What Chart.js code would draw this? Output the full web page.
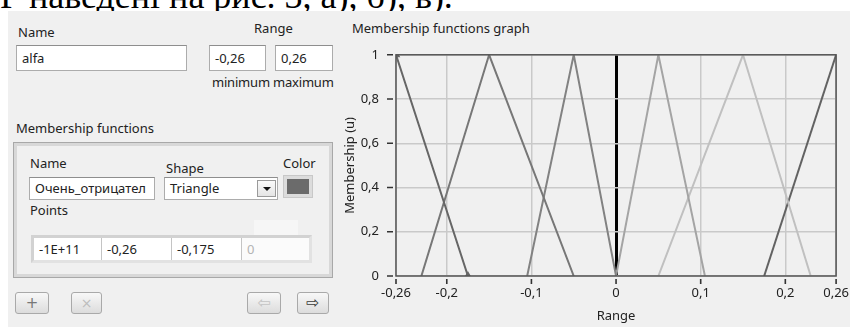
<!DOCTYPE html>
<html>
<head>
<meta charset="utf-8">
<script src="https://cdn.jsdelivr.net/npm/chart.js"></script>
<style>
body { margin: 0; width: 858px; height: 327px; overflow: hidden; background: #fff; position: relative;
       font-family: "Noto Sans", sans-serif; font-size: 13px; color: #222; }
.a { position: absolute; white-space: nowrap; }
#cap { left: 0; top: -25px; font-family: "Liberation Serif", serif; font-size: 36px; color: #000; }
#panel { left: 8px; top: 11px; width: 842px; height: 316px; background: #f0f0f0; }
.lbl { line-height: 16px; }
.box { background: #fff; border: 1px solid #acacac; border-top-color: #8e8e8e; box-sizing: border-box;
       padding-left: 5px; }
.frame { border: 1px solid #a8a8a8; box-shadow: inset 0 0 0 3px #d8d8d8; box-sizing: border-box; }
.arr { border: 3px solid #d2d2d2; border-right-color: #e2e2e2; border-bottom-color: #e2e2e2; box-sizing: border-box; display: flex; }
.cell { background: #fff; border-right: 1px solid #c4c4c4; box-sizing: border-box; padding-left: 5px; height: 100%; }
.btn { border: 1px solid #a9a9a9; border-radius: 3px; background: linear-gradient(#f8f8f8, #dcdcdc);
       box-sizing: border-box; text-align: center; font-family: "DejaVu Sans", sans-serif; }
#chartWrap { left: 340px; top: 30px; width: 518px; height: 297px; }
</style>
</head>
<body>
<div class="a" id="cap">Р наведені на рис. 3, а), б), в).</div>
<div class="a" id="panel"></div>

<div class="a lbl" style="left:18px;top:24px">Name</div>
<div class="a box" style="left:16px;top:45px;width:171px;height:26px;line-height:24px">alfa</div>
<div class="a lbl" style="left:254px;top:20px">Range</div>
<div class="a box" style="left:209px;top:45px;width:57px;height:26px;line-height:24px">-0,26</div>
<div class="a box" style="left:275px;top:45px;width:58px;height:26px;line-height:24px">0,26</div>
<div class="a lbl" style="left:212px;top:74px;letter-spacing:-0.2px">minimum</div>
<div class="a lbl" style="left:273px;top:74px;letter-spacing:-0.2px">maximum</div>

<div class="a lbl" style="left:16px;top:120px">Membership functions</div>
<div class="a frame" style="left:13px;top:142px;width:320px;height:136px"></div>
<div class="a lbl" style="left:30px;top:155px">Name</div>
<div class="a box" style="left:29px;top:177px;width:126px;height:23px;line-height:21px;overflow:hidden">Очень_отрицател</div>
<div class="a lbl" style="left:166px;top:160px">Shape</div>
<div class="a box" style="left:164px;top:177px;width:114px;height:23px;line-height:21px">Triangle</div>
<div class="a" style="left:257px;top:180px;width:19px;height:17px;border:1px solid #9a9a9a;box-sizing:border-box;background:linear-gradient(#fafafa,#e4e4e4)">
  <div style="position:absolute;left:5px;top:6px;width:0;height:0;border-left:4px solid transparent;border-right:4px solid transparent;border-top:4px solid #111"></div>
</div>
<div class="a lbl" style="left:283px;top:155px">Color</div>
<div class="a" style="left:283px;top:175px;width:30px;height:23px;background:#dcdcdc;border:1px solid #c8c8c8;box-sizing:border-box">
  <div style="position:absolute;left:3px;top:3px;width:22px;height:15px;background:#6b6b6b"></div>
</div>
<div class="a lbl" style="left:30px;top:202px">Points</div>
<div class="a" style="left:254px;top:220px;width:44px;height:15px;background:#f6f6f6"></div>
<div class="a arr" style="left:31px;top:235px;width:281px;height:28px;line-height:22px">
  <div class="cell" style="width:68px">-1E+11</div>
  <div class="cell" style="width:70px">-0,26</div>
  <div class="cell" style="width:70px">-0,175</div>
  <div class="cell" style="width:67px;color:#b4b4b4;border-right:none;background:#fbfbfb">0</div>
</div>

<div class="a btn" style="left:15px;top:292px;width:34px;height:22px;line-height:20px;color:#777;font-size:15px">+</div>
<div class="a btn" style="left:71px;top:292px;width:31px;height:22px;line-height:20px;color:#bdbdbd;font-size:14px">×</div>
<div class="a btn" style="left:247px;top:292px;width:34px;height:22px;line-height:20px;color:#c4c4c4;font-size:16px">⇦</div>
<div class="a btn" style="left:297px;top:292px;width:32px;height:22px;line-height:20px;color:#3a3a3a;font-size:16px">⇨</div>

<div class="a lbl" style="left:352px;top:20px">Membership functions graph</div>
<div class="a" id="chartWrap"><canvas id="mfChart" width="518" height="297"></canvas></div>

<script>
// axis ticks
const xTicks = [-0.26, -0.2, -0.1, 0, 0.1, 0.2, 0.26];
const xTickLabels = ['-0,26', '-0,2', '-0,1', '0', '0,1', '0,2', '0,26'];
const yTicks = [0, 0.2, 0.4, 0.6, 0.8, 1];
const yTickLabels = ['0', '0,2', '0,4', '0,6', '0,8', '1'];

// triangle membership functions: points a, b, c
const mfPoints = [
  [-1e11, -0.26, -0.175],
  [-0.23, -0.15, -0.05],
  [-0.105, -0.05, 0],
  [0, 0.05, 0.105],
  [0.05, 0.15, 0.23],
  [0.175, 0.26, 1e11]
];
const mfLevels = [0, 1, 0];

const lineColors = ['#666666', '#777777', '#828282', '#a4a4a4', '#c0c0c0', '#626262'];

const datasets = mfPoints.map((p, i) => ({
  data: p.map((x, j) => ({ x: x, y: mfLevels[j] })),
  showLine: true,
  borderColor: lineColors[i],
  backgroundColor: lineColors[i],
  borderWidth: 2,
  pointRadius: i === 0 ? [0, 3, 3] : 0,
  pointStyle: 'triangle'
}));

const plotFrame = {
  id: 'plotFrame',
  afterDatasetsDraw(chart) {
    const a = chart.chartArea, ctx = chart.ctx;
    ctx.save();
    ctx.strokeStyle = '#555';
    ctx.lineWidth = 1.5;
    ctx.strokeRect(a.left, a.top, a.right - a.left, a.bottom - a.top);
    ctx.restore();
  },
  afterDraw(chart) {
    const a = chart.chartArea, ctx = chart.ctx;
    const xs = chart.scales.x, ys = chart.scales.y;
    ctx.save();
    ctx.strokeStyle = '#333';
    ctx.lineWidth = 1.6;
    ctx.beginPath();
    xTicks.forEach(v => {
      const px = xs.getPixelForValue(v);
      ctx.moveTo(px, a.bottom + 3);
      ctx.lineTo(px, a.bottom + 8);
    });
    yTicks.forEach(v => {
      const py = ys.getPixelForValue(v);
      ctx.moveTo(a.left - 9, py);
      ctx.lineTo(a.left - 3, py);
    });
    ctx.stroke();
    ctx.restore();
  }
};

const labelFont = { family: 'Noto Sans', size: 13 };

new Chart(document.getElementById('mfChart'), {
  type: 'scatter',
  data: { datasets: datasets },
  options: {
    responsive: false,
    animation: false,
    layout: { padding: { top: 17, right: 18, left: 0, bottom: 0 } },
    plugins: { legend: { display: false }, tooltip: { enabled: false } },
    scales: {
      x: {
        type: 'linear',
        min: -0.26,
        max: 0.26,
        afterBuildTicks: s => { s.ticks = xTicks.map(v => ({ value: v })); },
        afterFit: s => { s.height = 51; },
        ticks: {
          autoSkip: false,
          maxRotation: 0,
          padding: 9,
          color: '#222',
          font: labelFont,
          callback: (v, i) => xTickLabels[i]
        },
        grid: {
          drawTicks: false,
          color: c => (c.tick && c.tick.value === 0) ? '#000' : '#c9c9c9',
          lineWidth: c => (c.tick && c.tick.value === 0) ? 3 : 1.5
        },
        border: { display: false },
        title: { display: true, text: 'Range', color: '#222', font: labelFont, padding: { top: 4, bottom: 3 } }
      },
      y: {
        min: 0,
        max: 1,
        afterBuildTicks: s => { s.ticks = yTicks.map(v => ({ value: v })); },
        afterFit: s => { s.width = 56; },
        ticks: {
          padding: 17,
          color: '#222',
          font: labelFont,
          callback: (v, i) => yTickLabels[i]
        },
        grid: { drawTicks: false, color: '#c9c9c9', lineWidth: 1.5 },
        border: { display: false },
        title: { display: true, text: 'Membership (u)', color: '#222', font: labelFont, padding: { top: 2, bottom: 4 } }
      }
    }
  },
  plugins: [plotFrame]
});
</script>
</body>
</html>
